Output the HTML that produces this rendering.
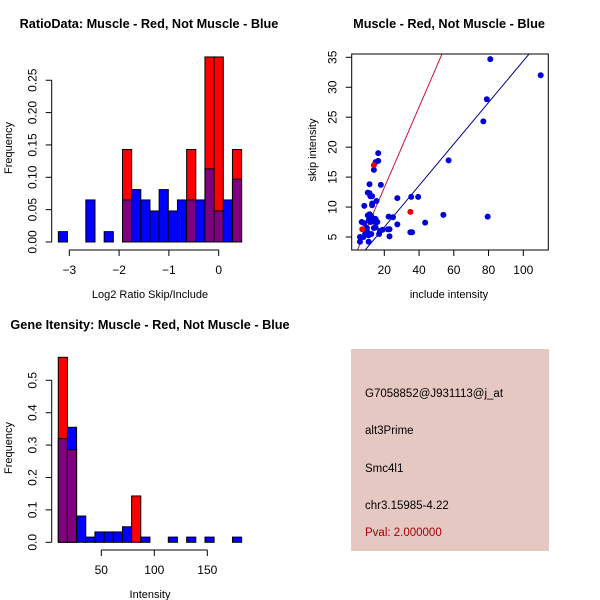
<!DOCTYPE html>
<html><head><meta charset="utf-8"><style>body{margin:0;background:#fff}svg{display:block;font-family:"Liberation Sans",sans-serif}</style></head>
<body>
<svg id="s" width="600" height="600" xmlns="http://www.w3.org/2000/svg">
<rect width="600" height="600" fill="#fff"/>
<g id="p1"></g>
<g id="p2"></g>
<g id="p3"></g>
<g id="p4">
<rect x="351" y="349" width="198" height="202" fill="#e6c8c2"/>
<text x="365" y="397" font-size="11.5">G7058852@J931113@j_at</text>
<text x="365" y="434" font-size="11.5">alt3Prime</text>
<text x="365" y="472" font-size="11.5">Smc4l1</text>
<text x="365" y="509" font-size="11.5">chr3.15985-4.22</text>
<text x="365" y="536" font-size="11.5" fill="#a00000">Pval: 2.000000</text>
</g>
</svg>
<script>
// Plot 1 data
const ratioBinStart = -3.22, ratioBinWidth = 0.184;
const ratioBlue = [0.016,0,0,0.065,0,0.016,0,0.065,0.081,0.065,0.048,0.081,0.048,0.065,0.065,0.065,0.113,0.048,0.065,0.097];
const ratioRed = [0,0,0,0,0,0,0,0.143,0,0,0,0,0,0,0.143,0,0.286,0.286,0,0.143];
const ratioYTicks = [0,0.05,0.10,0.15,0.20,0.25];
const ratioYLabels = ["0.00","0.05","0.10","0.15","0.20","0.25"];
const ratioXTicks = [-3,-2,-1,0];
// Plot 2 data
const scatterBlue = [[81,34.7],[110,32],[79,28],[77,24.3],[57,17.8],[79.5,8.4],[54,8.7],[43.5,7.4],[39.5,11.7],[35.5,11.7],[36,5.8],[35,5.8],[27.5,11.5],[27.5,7.1],[25,8.3],[22.5,8.4],[23,6.3],[22,6.3],[23,5.1],[18,13.7],[16.5,19],[16.5,17.7],[15,17.5],[14,16.2],[11.5,13.8],[10.5,12.4],[11.5,12.3],[12,11.8],[13,11.8],[13,10.6],[13,10.3],[15.5,11],[8.5,10.2],[10.5,8.6],[11.5,8.8],[12.5,8.5],[14,8],[15,8],[16,7.5],[14.5,7.5],[12,7.5],[11,7.8],[7,7.5],[8.5,7.3],[10,6.5],[14,6.5],[15,6.6],[19,6.2],[17.5,6],[17,5.5],[12.5,5.5],[11,5.3],[9,5.5],[8,5],[6,5],[6,4.2],[11,4.2],[10,6],[9,6.3]];
const scatterRed = [[14,17],[35,9.2],[7.3,6.3]];
const blueFit = [0.347,-0.3];
const redFit = [0.672,-0.2];
const scatterXTicks = [20,40,60,80,100];
const scatterYTicks = [5,10,15,20,25,30,35];
// Plot 3 data
const intBinStart = 9.4, intBinWidth = 8.65;
const intBlue = [0.32,0.355,0.081,0.016,0.032,0.032,0.032,0.048,0,0.016,0,0,0.016,0,0.016,0,0.016,0,0,0.016];
const intRed = [0.571,0.286,0,0,0,0,0,0,0.143,0,0,0,0,0,0,0,0,0,0,0];
const intYTicks = [0,0.1,0.2,0.3,0.4,0.5];
const intYLabels = ["0.0","0.1","0.2","0.3","0.4","0.5"];
const intXTicks = [50,100,150];

const NS="http://www.w3.org/2000/svg";
function mk(parent,tag,attrs,text){const e=document.createElementNS(NS,tag);for(const k in attrs)e.setAttribute(k,attrs[k]);if(text!==undefined)e.textContent=text;parent.appendChild(e);return e;}

function hist(g,o){
  const {start,width,blue,red,x,y,yTicks,yLabels,xTicks,axisY,yAxisX,title,titleX,xlab,xlabY,yTitleY}=o;
  blue.forEach((b,i)=>{
    const r=red[i];const x0=x(start+i*width),x1=x(start+(i+1)*width);
    const hi=Math.max(b,r),lo=Math.min(b,r);
    if(hi<=0)return;
    const c=r>b?"#ff0000":"#0000ff";
    const e1=mk(g,"rect",{x:x0,y:y(hi),width:x1-x0,height:y(0)-y(hi),fill:c,stroke:"#000","stroke-width":1});
    
    
    if(lo>0){
      const e2=mk(g,"rect",{x:x0,y:y(lo),width:x1-x0,height:y(0)-y(lo),fill:"#7f007f",stroke:"#000","stroke-width":1});
      
      
    }
  });
  const ya=mk(g,"line",{x1:yAxisX,x2:yAxisX,y1:y(yTicks[0]),y2:y(yTicks[yTicks.length-1]),stroke:"#000"});
  
  
  yTicks.forEach((t,i)=>{
    mk(g,"line",{x1:yAxisX-6,x2:yAxisX,y1:y(t),y2:y(t),stroke:"#000"});
    const tl=mk(g,"text",{x:0,y:0,transform:`translate(${yAxisX-15},${y(t)}) rotate(-90)`,"text-anchor":"middle","font-size":12},yLabels[i]);
    
    
  });
  const xa=mk(g,"line",{x1:x(xTicks[0]),x2:x(xTicks[xTicks.length-1]),y1:axisY,y2:axisY,stroke:"#000"});
  
  
  xTicks.forEach(t=>{
    mk(g,"line",{x1:x(t),x2:x(t),y1:axisY,y2:axisY+6,stroke:"#000"});
    const tl=mk(g,"text",{x:x(t),y:axisY+24,"text-anchor":"middle","font-size":12},String(t).replace('-','\u2212'));
    
    
  });
  const tt=mk(g,"text",{x:titleX,y:o.titleY,"text-anchor":"middle","font-size":12.7,"font-weight":"bold"},title);
  
  
  const xl=mk(g,"text",{x:150,y:xlabY,"text-anchor":"middle","font-size":11},xlab);
  
  
  const yl=mk(g,"text",{x:0,y:0,transform:`translate(12,${yTitleY}) rotate(-90)`,"text-anchor":"middle","font-size":11},"Frequency");
  
  
}

hist(document.getElementById('p1'),{start:ratioBinStart,width:ratioBinWidth,blue:ratioBlue,red:ratioRed,
  x:v=>218.7+49.8*v,y:v=>242-647*v,yTicks:ratioYTicks,yLabels:ratioYLabels,xTicks:ratioXTicks,axisY:250,yAxisX:51.7,
  title:"RatioData: Muscle - Red, Not Muscle - Blue",titleX:149,titleY:28,xlab:"Log2 Ratio Skip/Include",xlabY:298,yTitleY:148});
hist(document.getElementById('p3'),{start:intBinStart,width:intBinWidth,blue:intBlue,red:intRed,
  x:v=>101.3+(v-50)*1.06,y:v=>542.3-324*v,yTicks:intYTicks,yLabels:intYLabels,xTicks:intXTicks,axisY:550,yAxisX:51.7,
  title:"Gene Itensity: Muscle - Red, Not Muscle - Blue",titleX:150,titleY:329,xlab:"Intensity",xlabY:598,yTitleY:448});

// Scatter
(function(){
  const g=document.getElementById('p2');
  const x=v=>384.3+(v-20)*1.7375, y=v=>237-(v-5)*5.99;
  const L=351.7,R=548.3,T=54,B=250;
  const cp=mk(document.getElementById('s'),"clipPath",{id:"clip2"});
  mk(cp,"rect",{x:L,y:T,width:R-L,height:B-T});
  const drawLine=(f,c,n)=>{
    const x0=0,x1=120;
    const ln=mk(g,"line",{x1:x(x0),y1:y(f[0]*x0+f[1]),x2:x(x1),y2:y(f[0]*x1+f[1]),stroke:c,"stroke-width":1,"clip-path":"url(#clip2)"});
    
    
  };
  drawLine(redFit,"#d0103a","red-fit-line");
  drawLine(blueFit,"#00008b","blue-fit-line");
  scatterBlue.forEach(p=>{
    const c=mk(g,"circle",{cx:x(p[0]),cy:y(p[1]),r:3,fill:"#0000dd"});
    
    
  });
  scatterRed.forEach(p=>{
    const c=mk(g,"circle",{cx:x(p[0]),cy:y(p[1]),r:3,fill:"#ee0000"});
    
    
  });
  const box=mk(g,"rect",{x:L,y:T,width:R-L,height:B-T,fill:"none",stroke:"#000"});
  
  
  scatterXTicks.forEach(t=>{
    mk(g,"line",{x1:x(t),x2:x(t),y1:B,y2:B+6,stroke:"#000"});
    const tl=mk(g,"text",{x:x(t),y:B+24,"text-anchor":"middle","font-size":12},String(t));
    
    
  });
  scatterYTicks.forEach(t=>{
    mk(g,"line",{x1:L-6,x2:L,y1:y(t),y2:y(t),stroke:"#000"});
    const tl=mk(g,"text",{x:0,y:0,transform:`translate(${L-15},${y(t)}) rotate(-90)`,"text-anchor":"middle","font-size":12},String(t));
    
    
  });
  const tt=mk(g,"text",{x:449,y:28,"text-anchor":"middle","font-size":12.7,"font-weight":"bold"},"Muscle - Red, Not Muscle - Blue");
  
  
  const xl=mk(g,"text",{x:449,y:298,"text-anchor":"middle","font-size":11},"include intensity");
  
  
  const yl=mk(g,"text",{x:0,y:0,transform:"translate(316,150) rotate(-90)","text-anchor":"middle","font-size":11},"skip intensity");
  
  
})();
</script>
</body></html>
